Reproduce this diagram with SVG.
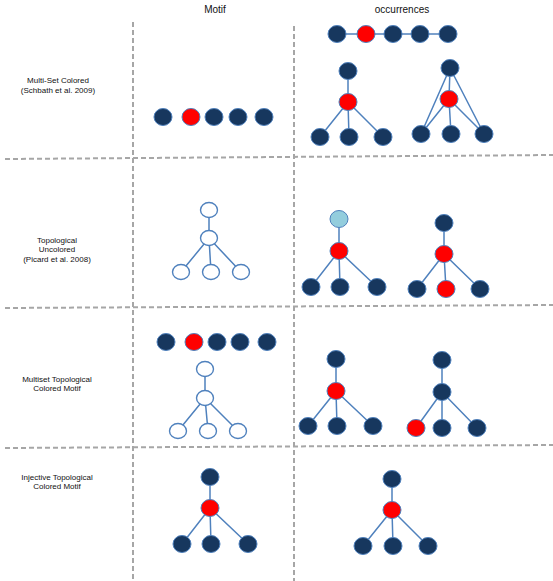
<svg xmlns="http://www.w3.org/2000/svg" width="553" height="581" viewBox="0 0 553 581">
<style>
text{font-family:"Liberation Sans",Arial,sans-serif;fill:#111;text-anchor:middle}
.lab{font-size:8px}
.hd{font-size:10px}
.d{fill:#17375E;stroke:#4F81BD;stroke-width:1}
.r{fill:#FF0000;stroke:#4F81BD;stroke-width:1}
.lb{fill:#93CDDD;stroke:#4F81BD;stroke-width:1}
.o{fill:#fff;stroke:#4F81BD;stroke-width:1.4}
.e{stroke:#4F81BD;stroke-width:1.5;fill:none}
.g{stroke:#A6A6A6;stroke-width:2;stroke-dasharray:5 3;fill:none}
</style>
<rect width="553" height="581" fill="#fff"/>
<g id="grid">
<line class="g" x1="133" y1="22" x2="133" y2="581"/>
<line class="g" x1="294" y1="26" x2="294" y2="581"/>
<line class="g" x1="5" y1="159" x2="553" y2="155"/>
<line class="g" x1="5" y1="308" x2="553" y2="305"/>
<line class="g" x1="5" y1="448" x2="553" y2="445"/>
</g>
<g id="headers">
<text class="hd" x="215" y="13">Motif</text>
<text class="hd" x="402" y="13">occurrences</text>
</g>
<g id="labels">
<text class="lab" x="58" y="83">Multi-Set Colored</text>
<text class="lab" x="58" y="93">(Schbath et al. 2009)</text>
<text class="lab" x="57" y="243">Topological</text>
<text class="lab" x="57" y="252">Uncolored</text>
<text class="lab" x="57" y="262">(Picard et al. 2008)</text>
<text class="lab" x="57" y="382">Multiset Topological</text>
<text class="lab" x="57" y="391">Colored Motif</text>
<text class="lab" x="57" y="480">Injective Topological</text>
<text class="lab" x="57" y="489">Colored Motif</text>
</g>
<g id="connectors">
<line class="e" x1="337" y1="34" x2="448" y2="34"/>
<path class="e" d="M348 71V102M348 102L320 137M348 102L349 137M348 102L383 137"/>
<path class="e" d="M450 68L449 99M449 99L421 134M449 99L451 134M449 99L484 134M450 68L421 134M450 68L484 134"/>
<path class="e" d="M209 210V238M209 238L181 272M209 238L211 272M209 238L241 272"/>
<path class="e" d="M339 219V251M339 251L311 287M339 251L340 287M339 251L377 287"/>
<path class="e" d="M444 223V254M444 254L417 289M444 254L446 289M444 254L480 289"/>
<path class="e" d="M205 369V398M205 398L178 431M205 398L208 431M205 398L238 431"/>
<path class="e" d="M336 359V391M336 391L308 426M336 391L337 426M336 391L373 426"/>
<path class="e" d="M442 360V392M442 392L416 428M442 392L442 428M442 392L477 428"/>
<path class="e" d="M210 477V508M210 508L182 544M210 508L211 544M210 508L248 544"/>
<path class="e" d="M392 479V510M392 510L363 546M392 510L393 546M392 510L428 546"/>
</g>
<g id="s1-motif">
<ellipse class="d" cx="163" cy="117" rx="9" ry="8.5"/>
<ellipse class="r" cx="191" cy="117" rx="9" ry="8.5"/>
<ellipse class="d" cx="214" cy="117" rx="9" ry="8.5"/>
<ellipse class="d" cx="238" cy="117" rx="9" ry="8.5"/>
<ellipse class="d" cx="264" cy="117" rx="9" ry="8.5"/>
</g>
<g id="s1-occ-row">
<ellipse class="d" cx="337" cy="34" rx="9" ry="8.5"/>
<ellipse class="r" cx="366" cy="34" rx="9" ry="8.5"/>
<ellipse class="d" cx="393" cy="34" rx="9" ry="8.5"/>
<ellipse class="d" cx="420" cy="34" rx="9" ry="8.5"/>
<ellipse class="d" cx="448" cy="34" rx="9" ry="8.5"/>
</g>
<g id="s1-occ-tree1">
<ellipse class="d" cx="348" cy="71" rx="9" ry="8.5"/>
<ellipse class="r" cx="348" cy="102" rx="9" ry="8.5"/>
<ellipse class="d" cx="320" cy="137" rx="9" ry="8.5"/>
<ellipse class="d" cx="349" cy="137" rx="9" ry="8.5"/>
<ellipse class="d" cx="383" cy="137" rx="9" ry="8.5"/>
</g>
<g id="s1-occ-tree2">
<ellipse class="d" cx="450" cy="68" rx="9" ry="8.5"/>
<ellipse class="r" cx="449" cy="99" rx="9" ry="8.5"/>
<ellipse class="d" cx="421" cy="134" rx="9" ry="8.5"/>
<ellipse class="d" cx="451" cy="134" rx="9" ry="8.5"/>
<ellipse class="d" cx="484" cy="134" rx="9" ry="8.5"/>
</g>
<g id="s2-motif">
<ellipse class="o" cx="209" cy="210" rx="8.5" ry="7.5"/>
<ellipse class="o" cx="209" cy="238" rx="8.5" ry="7.5"/>
<ellipse class="o" cx="181" cy="272" rx="8.5" ry="7.5"/>
<ellipse class="o" cx="211" cy="272" rx="8.5" ry="7.5"/>
<ellipse class="o" cx="241" cy="272" rx="8.5" ry="7.5"/>
</g>
<g id="s2-occ-tree1">
<ellipse class="lb" cx="339" cy="219" rx="9" ry="8.5"/>
<ellipse class="r" cx="339" cy="251" rx="9" ry="8.5"/>
<ellipse class="d" cx="311" cy="287" rx="9" ry="8.5"/>
<ellipse class="d" cx="340" cy="287" rx="9" ry="8.5"/>
<ellipse class="d" cx="377" cy="287" rx="9" ry="8.5"/>
</g>
<g id="s2-occ-tree2">
<ellipse class="d" cx="444" cy="223" rx="9" ry="8.5"/>
<ellipse class="r" cx="444" cy="254" rx="9" ry="8.5"/>
<ellipse class="d" cx="417" cy="289" rx="9" ry="8.5"/>
<ellipse class="r" cx="446" cy="289" rx="9" ry="8.5"/>
<ellipse class="d" cx="480" cy="289" rx="9" ry="8.5"/>
</g>
<g id="s3-motif-row">
<ellipse class="d" cx="166" cy="342" rx="9" ry="8.5"/>
<ellipse class="r" cx="194" cy="342" rx="9" ry="8.5"/>
<ellipse class="d" cx="217" cy="342" rx="9" ry="8.5"/>
<ellipse class="d" cx="240" cy="342" rx="9" ry="8.5"/>
<ellipse class="d" cx="267" cy="342" rx="9" ry="8.5"/>
</g>
<g id="s3-motif-tree">
<ellipse class="o" cx="205" cy="369" rx="8.5" ry="7.5"/>
<ellipse class="o" cx="205" cy="398" rx="8.5" ry="7.5"/>
<ellipse class="o" cx="178" cy="431" rx="8.5" ry="7.5"/>
<ellipse class="o" cx="208" cy="431" rx="8.5" ry="7.5"/>
<ellipse class="o" cx="238" cy="431" rx="8.5" ry="7.5"/>
</g>
<g id="s3-occ-tree1">
<ellipse class="d" cx="336" cy="359" rx="9" ry="8.5"/>
<ellipse class="r" cx="336" cy="391" rx="9" ry="8.5"/>
<ellipse class="d" cx="308" cy="426" rx="9" ry="8.5"/>
<ellipse class="d" cx="337" cy="426" rx="9" ry="8.5"/>
<ellipse class="d" cx="373" cy="426" rx="9" ry="8.5"/>
</g>
<g id="s3-occ-tree2">
<ellipse class="d" cx="442" cy="360" rx="9" ry="8.5"/>
<ellipse class="d" cx="442" cy="392" rx="9" ry="8.5"/>
<ellipse class="r" cx="416" cy="428" rx="9" ry="8.5"/>
<ellipse class="d" cx="442" cy="428" rx="9" ry="8.5"/>
<ellipse class="d" cx="477" cy="428" rx="9" ry="8.5"/>
</g>
<g id="s4-motif">
<ellipse class="d" cx="210" cy="477" rx="9" ry="8.5"/>
<ellipse class="r" cx="210" cy="508" rx="9" ry="8.5"/>
<ellipse class="d" cx="182" cy="544" rx="9" ry="8.5"/>
<ellipse class="d" cx="211" cy="544" rx="9" ry="8.5"/>
<ellipse class="d" cx="248" cy="544" rx="9" ry="8.5"/>
</g>
<g id="s4-occ">
<ellipse class="d" cx="392" cy="479" rx="9" ry="8.5"/>
<ellipse class="r" cx="392" cy="510" rx="9" ry="8.5"/>
<ellipse class="d" cx="363" cy="546" rx="9" ry="8.5"/>
<ellipse class="d" cx="393" cy="546" rx="9" ry="8.5"/>
<ellipse class="d" cx="428" cy="546" rx="9" ry="8.5"/>
</g>
</svg>
